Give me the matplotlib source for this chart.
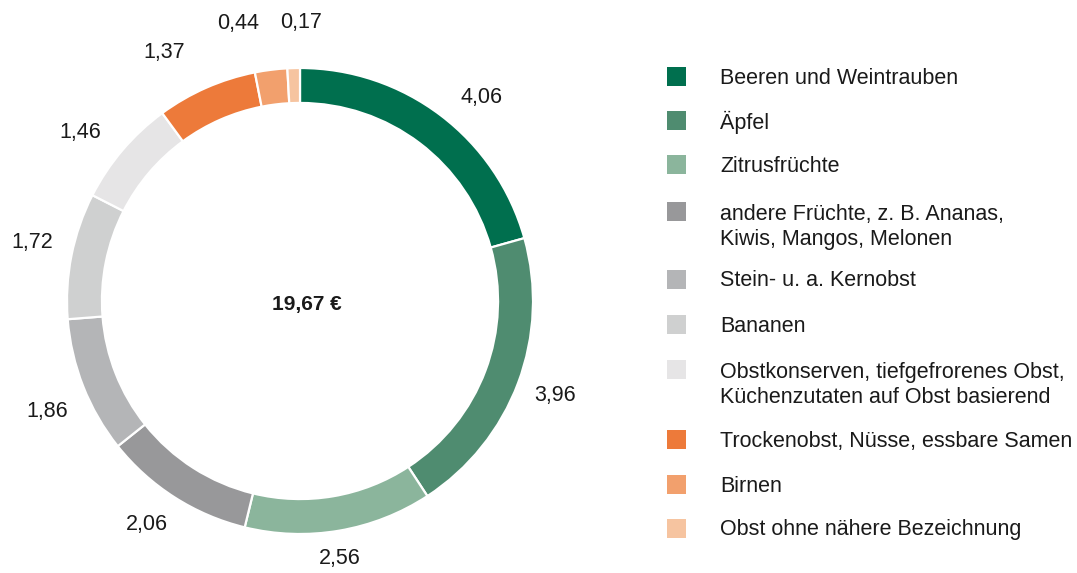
import numpy as np
import matplotlib.pyplot as plt
from matplotlib.patches import Rectangle

plt.rcParams['font.family'] = ['Liberation Sans', 'DejaVu Sans']

# data
categories = ["Beeren und Weintrauben", "Äpfel", "Zitrusfrüchte",
              "andere Früchte, z. B. Ananas,\nKiwis, Mangos, Melonen",
              "Stein- u. a. Kernobst", "Bananen",
              "Obstkonserven, tiefgefrorenes Obst,\nKüchenzutaten auf Obst basierend",
              "Trockenobst, Nüsse, essbare Samen", "Birnen",
              "Obst ohne nähere Bezeichnung"]
values = [4.06, 3.96, 2.56, 2.06, 1.86, 1.72, 1.46, 1.37, 0.44, 0.17]
total_label = "19,67 €"
colors = ["#006f4e", "#4f8c70", "#8bb59c", "#98989a", "#b4b5b7",
          "#cfd0d0", "#e6e5e6", "#ed7a3a", "#f2a06d", "#f6c4a0"]

W, H = 1077, 573
fig = plt.figure(figsize=(W / 100, H / 100), dpi=100)

# donut placement in pixels
cx, cy, r = 300, 301, 233
ax = fig.add_axes([(cx - r) / W, (H - cy - r) / H, 2 * r / W, 2 * r / H])

wedges, _ = ax.pie(values, colors=colors, startangle=90, counterclock=False,
                   radius=1, wedgeprops=dict(width=0.15, edgecolor='white', linewidth=1.6))
ax.set_xlim(-1, 1)
ax.set_ylim(-1, 1)
ax.set_aspect('equal')
ax.axis('off')

# labels: small angle nudges (deg) and radii so they sit like the original
nudge = [-4.5, 0.3, -1.0, -1.8, 2.1, -1.1, 2.8, 5.0, 5.5, -1.7]
lab_r = [1.172, 1.167, 1.12, 1.163, 1.185, 1.176, 1.189, 1.215, 1.219, 1.197]
for w, v, dn, rr in zip(wedges, values, nudge, lab_r):
    ang = np.deg2rad((w.theta1 + w.theta2) / 2 + dn)
    ax.text(rr * np.cos(ang), rr * np.sin(ang), f"{v:.2f}".replace('.', ','),
            ha='center', va='center', fontsize=15.5, color='#1a1a1a', clip_on=False)

ax.text(0.03, -0.015, total_label, ha='center', va='center', fontsize=15,
        fontweight='bold', color='#1a1a1a')

# legend drawn by hand
rows_y = [78, 122, 166, 227, 281, 326, 385, 441, 486, 530]
for lab, col, y in zip(categories, colors, rows_y):
    nlines = lab.count('\n') + 1
    sq_y = y - 1.5 if nlines == 1 else y - 16
    fig.patches.append(Rectangle((667 / W, (H - sq_y - 9.5) / H), 19 / W, 19 / H,
                                 transform=fig.transFigure, facecolor=col, edgecolor='none'))
    fig.text(720 / W, (H - y) / H, lab, ha='left', va='center', fontsize=15.5,
             color='#1a1a1a', linespacing=1.27)

fig.savefig('out.png', dpi=100, facecolor='white')
